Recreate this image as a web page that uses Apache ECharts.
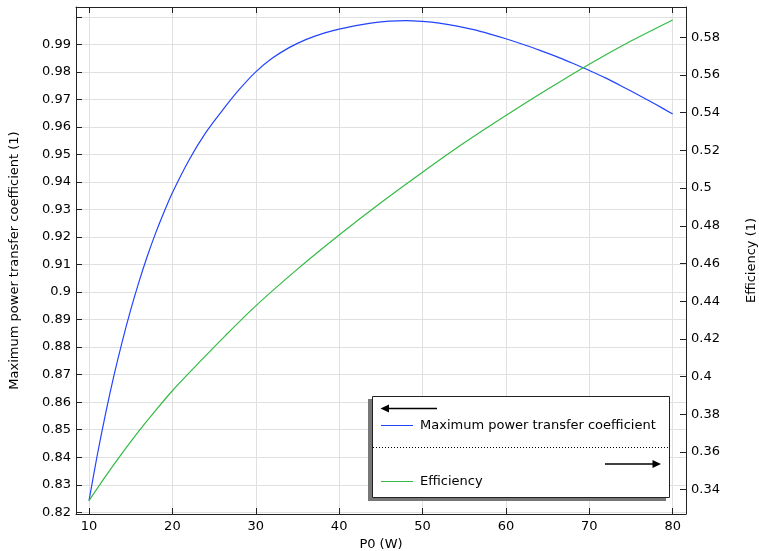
<!DOCTYPE html>
<html>
<head>
<meta charset="utf-8">
<script src="https://cdn.jsdelivr.net/npm/echarts@6/dist/echarts.min.js"></script>
<style>html,body{margin:0;padding:0;background:#fff;overflow:hidden;}#c{width:759px;height:551px;}</style>
</head>
<body>
<div id="c"></div>
<script>
// ---- data ----
const powerName = 'Maximum power transfer coefficient';
const effName = 'Efficiency';
const powerX = [10, 11, 12, 13, 14, 15, 16, 17, 18, 19, 20, 22, 24, 26, 28, 30, 32, 34, 36, 38, 40, 42, 44, 46, 48, 50, 52, 54, 56, 58, 60, 62, 64, 66, 68, 70, 72, 74, 76, 78, 80];
const powerY = [0.8242, 0.8409, 0.8560, 0.8698, 0.8822, 0.8935, 0.9038, 0.9131, 0.9215, 0.9291, 0.9361, 0.9480, 0.9579, 0.9660, 0.9735, 0.9800, 0.9850, 0.9888, 0.9917, 0.9939, 0.9955, 0.9968, 0.9978, 0.9984, 0.9986, 0.9983, 0.9977, 0.9967, 0.9954, 0.9938, 0.9920, 0.9900, 0.9879, 0.9856, 0.9831, 0.9805, 0.9777, 0.9746, 0.9714, 0.9681, 0.9647];
const effX = [10, 12, 14, 16, 18, 20, 23.3, 26.3, 30, 35, 40, 45, 50, 55, 60, 65, 70, 75, 80];
const effY = [0.3342, 0.3472, 0.3595, 0.3712, 0.3821, 0.3925, 0.4079, 0.4215, 0.4375, 0.4570, 0.4751, 0.4922, 0.5084, 0.5240, 0.5385, 0.5524, 0.5657, 0.5780, 0.5892];
const xTicks = [10, 20, 30, 40, 50, 60, 70, 80];
const leftTicks = [0.82, 0.83, 0.84, 0.85, 0.86, 0.87, 0.88, 0.89, 0.9, 0.91, 0.92, 0.93, 0.94, 0.95, 0.96, 0.97, 0.98, 0.99, 1.0];
const leftLabels = [0.82, 0.83, 0.84, 0.85, 0.86, 0.87, 0.88, 0.89, 0.9, 0.91, 0.92, 0.93, 0.94, 0.95, 0.96, 0.97, 0.98, 0.99];
const rightTicks = [0.34, 0.36, 0.38, 0.4, 0.42, 0.44, 0.46, 0.48, 0.5, 0.52, 0.54, 0.56, 0.58];
const xTitle = 'P0 (W)';
const leftTitle = 'Maximum power transfer coefficient (1)';
const rightTitle = 'Efficiency (1)';

const FONT = 'DejaVu Sans';
const blue = '#2244ff';
const green = '#33bb44';
const axisCol = '#222';

const chart = echarts.init(document.getElementById('c'), null, {renderer: 'canvas'});
const zip = (xs, ys) => xs.map((x, i) => [x, ys[i]]);

const xBase = {
  type: 'value', min: 8.44, max: 81.6,
  axisLine: {show: true, onZero: false, lineStyle: {color: axisCol, width: 1}},
  axisTick: {show: true, inside: true, length: 6, customValues: xTicks, lineStyle: {color: axisCol}},
};

chart.setOption({
  animation: false,
  textStyle: {fontFamily: FONT},
  grid: {left: 76, top: 7, right: 73, bottom: 37, containLabel: false, outerBoundsMode: 'none'},
  xAxis: [
    Object.assign({}, xBase, {
      position: 'bottom',
      name: xTitle, nameLocation: 'middle', nameGap: 21,
      nameTextStyle: {fontFamily: FONT, fontSize: 13, color: '#000'},
      axisLabel: {show: true, customValues: xTicks, margin: 6, fontFamily: FONT, fontSize: 13, color: '#000'},
      splitLine: {show: true, lineStyle: {color: '#e0e0e0', width: 1}}
    }),
    Object.assign({}, xBase, {
      position: 'top',
      axisLabel: {show: false},
      splitLine: {show: false}
    })
  ],
  yAxis: [
    {
      type: 'value', position: 'left', min: 0.81938, max: 1.00355,
      name: leftTitle, nameLocation: 'middle', nameGap: 55, nameRotate: 90,
      nameTextStyle: {fontFamily: FONT, fontSize: 13, color: '#000'},
      axisLine: {show: true, lineStyle: {color: axisCol}},
      axisTick: {show: true, inside: true, length: 6, customValues: leftTicks, lineStyle: {color: axisCol}},
      axisLabel: {show: true, customValues: leftLabels, margin: 5, fontFamily: FONT, fontSize: 13, color: '#000'},
      splitLine: {show: true, lineStyle: {color: '#e0e0e0', width: 1}}
    },
    {
      type: 'value', position: 'right', min: 0.32711, max: 0.59607,
      name: rightTitle, nameLocation: 'middle', nameGap: 59, nameRotate: 90,
      nameTextStyle: {fontFamily: FONT, fontSize: 13, color: '#000'},
      axisLine: {show: true, lineStyle: {color: axisCol}},
      axisTick: {show: true, inside: true, length: 6, customValues: rightTicks, lineStyle: {color: axisCol}},
      axisLabel: {show: true, customValues: rightTicks, margin: 5, fontFamily: FONT, fontSize: 13, color: '#000'},
      splitLine: {show: false}
    }
  ],
  series: [
    {
      name: powerName, type: 'line', xAxisIndex: 0, yAxisIndex: 0,
      data: zip(powerX, powerY), showSymbol: false, smooth: 0.3,
      lineStyle: {color: blue, width: 1.2}, itemStyle: {color: blue}
    },
    {
      name: effName, type: 'line', xAxisIndex: 0, yAxisIndex: 1,
      data: zip(effX, effY), showSymbol: false, smooth: 0.3,
      lineStyle: {color: green, width: 1.2}, itemStyle: {color: green}
    }
  ],
  graphic: [
    {type: 'rect', shape: {x: 368, y: 399, width: 298, height: 102}, style: {fill: '#777'}, z: 100},
    {type: 'rect', shape: {x: 372.5, y: 396.5, width: 297, height: 101}, style: {fill: '#fff', stroke: '#222', lineWidth: 1}, z: 101},
    {type: 'line', shape: {x1: 386, y1: 408.5, x2: 437, y2: 408.5}, style: {stroke: '#000', lineWidth: 1.6}, z: 102},
    {type: 'polygon', shape: {points: [[380.5, 408.5], [389, 404.5], [389, 412.5]]}, style: {fill: '#000'}, z: 102},
    {type: 'line', shape: {x1: 381, y1: 425.5, x2: 413, y2: 425.5}, style: {stroke: blue, lineWidth: 1}, z: 102},
    {type: 'text', x: 420, y: 425.5, style: {text: powerName, font: '13px "DejaVu Sans"', fill: '#000', verticalAlign: 'middle', align: 'left'}, z: 102},
    {type: 'line', shape: {x1: 373, y1: 447.5, x2: 669, y2: 447.5}, style: {stroke: '#000', lineWidth: 1, lineDash: [1, 2]}, z: 102},
    {type: 'line', shape: {x1: 605, y1: 464, x2: 654, y2: 464}, style: {stroke: '#000', lineWidth: 1.6}, z: 102},
    {type: 'polygon', shape: {points: [[661, 464], [652.5, 460], [652.5, 468]]}, style: {fill: '#000'}, z: 102},
    {type: 'line', shape: {x1: 381, y1: 481.5, x2: 413, y2: 481.5}, style: {stroke: green, lineWidth: 1}, z: 102},
    {type: 'text', x: 420, y: 481.5, style: {text: effName, font: '13px "DejaVu Sans"', fill: '#000', verticalAlign: 'middle', align: 'left'}, z: 102}
  ]
});
</script>
</body>
</html>
